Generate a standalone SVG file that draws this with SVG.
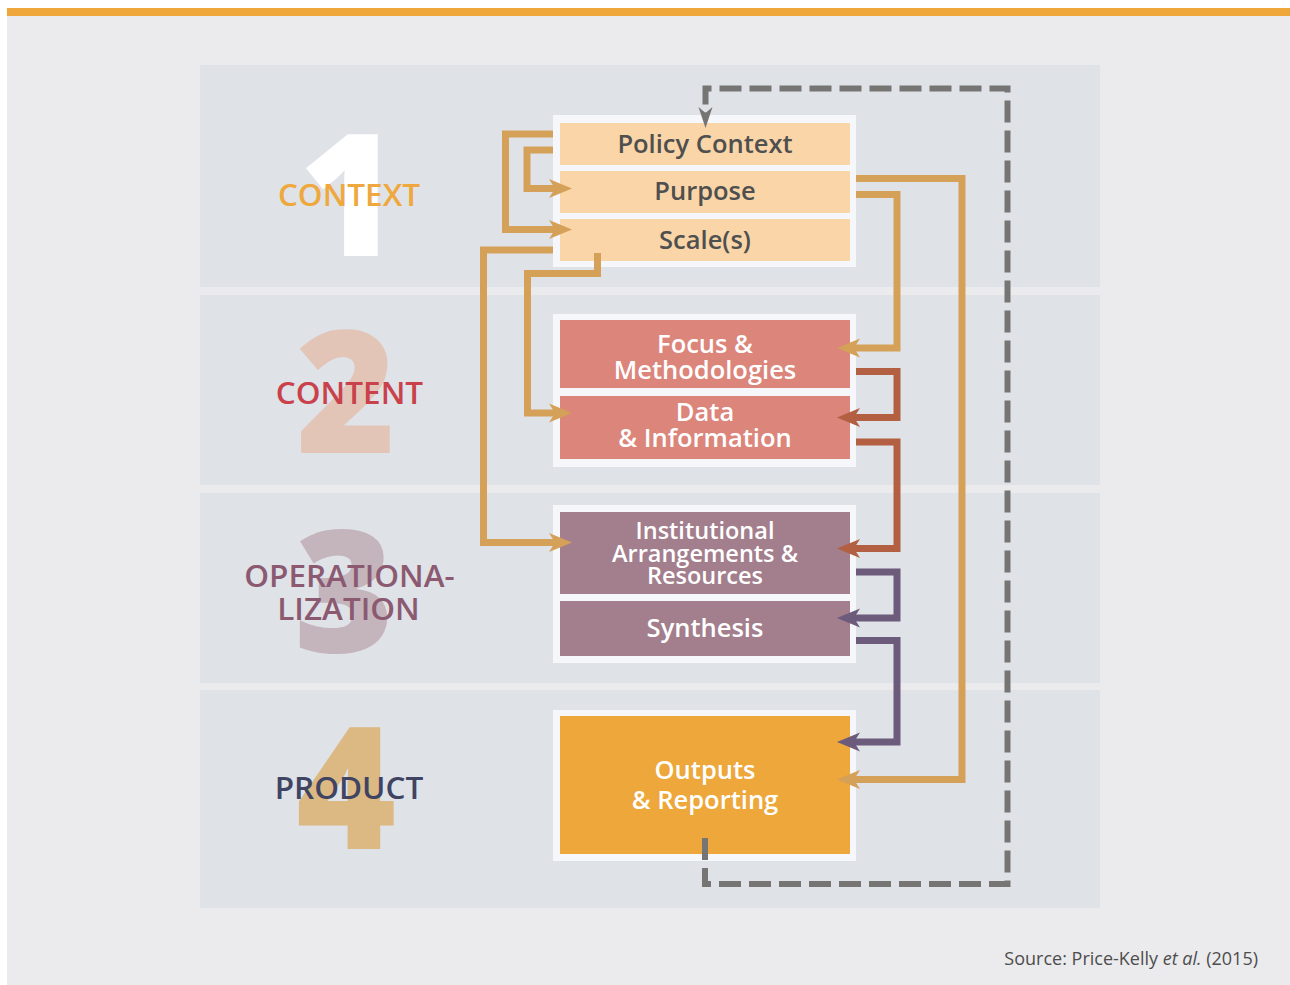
<svg xmlns="http://www.w3.org/2000/svg" width="1290" height="985" viewBox="0 0 1290 985">
<style>
.band{fill:#DFE2E7}
.frame{fill:#F5F7FA}
.nt{font-family:"Open Sans","Noto Sans","DejaVu Sans",sans-serif;font-weight:600;font-size:25.5px;text-anchor:middle}
.dk{fill:#4F4F4F}
.wt{fill:#FFFFFF}
.big{font-family:"Open Sans","Noto Sans","DejaVu Sans",sans-serif;font-weight:800;font-size:171px;text-anchor:middle}
.lab{font-family:"Open Sans","Noto Sans","DejaVu Sans",sans-serif;font-weight:600;font-size:31.5px;text-anchor:middle}
.c{fill:none;stroke-width:7;stroke-linejoin:miter;stroke-linecap:butt}
.gold{stroke:#D5A058;marker-end:url(#ag)}
.rust{stroke:#B25F42;marker-end:url(#ar)}
.purp{stroke:#6D5B7C;marker-end:url(#ap)}
.dash{fill:none;stroke:#777474;stroke-width:6;stroke-dasharray:22 8;marker-end:url(#ad)}
.peach{fill:#F9D5A7}
.salmon{fill:#DB857B}
.mauve{fill:#A37E8C}
.orange{fill:#EDA73B}
</style>
<defs>
<marker id="ag" markerUnits="userSpaceOnUse" orient="auto" viewBox="-8 -12 28 24" markerWidth="28" markerHeight="24" refX="0" refY="0"><path d="M17,0 L-6,-9.5 L0,0 L-6,9.5 Z" fill="#D5A058"/></marker>
<marker id="ar" markerUnits="userSpaceOnUse" orient="auto" viewBox="-8 -12 28 24" markerWidth="28" markerHeight="24" refX="0" refY="0"><path d="M17,0 L-6,-9.5 L0,0 L-6,9.5 Z" fill="#B25F42"/></marker>
<marker id="ap" markerUnits="userSpaceOnUse" orient="auto" viewBox="-8 -12 28 24" markerWidth="28" markerHeight="24" refX="0" refY="0"><path d="M17,0 L-6,-9.5 L0,0 L-6,9.5 Z" fill="#6D5B7C"/></marker>
<marker id="ad" markerUnits="userSpaceOnUse" orient="auto" viewBox="-8 -12 28 24" markerWidth="28" markerHeight="24" refX="0" refY="0"><path d="M15,0 L-6,-7 L0,0 L-6,7 Z" fill="#777474"/></marker>
</defs>

<rect x="0" y="0" width="1290" height="985" fill="#FFFFFF"/>
<rect x="7" y="8" width="1283" height="977" fill="#EBEBED"/>
<rect x="7" y="8" width="1283" height="8" fill="#EFA73C"/>

<g id="bands">
<rect class="band" x="200" y="65" width="900" height="222"/>
<rect class="band" x="200" y="295" width="900" height="190"/>
<rect class="band" x="200" y="493" width="900" height="190"/>
<rect class="band" x="200" y="690" width="900" height="218"/>
</g>

<g id="stage-context">
<text class="big" x="349" y="256" fill="#FFFFFF">1</text>
<text class="lab" x="349" y="206" fill="#EFA83D">CONTEXT</text>
</g>
<g id="stage-content">
<text class="big" x="346" y="453" fill="#E2C5B7">2</text>
<text class="lab" x="349.5" y="404" fill="#C8414B">CONTENT</text>
</g>
<g id="stage-operationalization">
<text class="big" x="344" y="652" fill="#C4B5BC">3</text>
<text class="lab" x="349.5" y="587" fill="#8B5A71">OPERATIONA-</text>
<text class="lab" x="348.5" y="620" fill="#8B5A71">LIZATION</text>
</g>
<g id="stage-product">
<text class="big" x="346" y="849" fill="#DCB882">4</text>
<text class="lab" x="349" y="799" fill="#3E4461">PRODUCT</text>
</g>

<g id="frame-context"><rect class="frame" x="553" y="115" width="303" height="152"/></g>
<g id="frame-content"><rect class="frame" x="553" y="314" width="303" height="153"/></g>
<g id="frame-operationalization"><rect class="frame" x="553" y="505" width="303" height="158"/></g>
<g id="frame-product"><rect class="frame" x="553" y="710" width="303" height="151"/></g>

<g id="node-policy-context">
<rect class="peach" x="560" y="123" width="290" height="42"/>
<text class="nt dk" x="705" y="153">Policy Context</text>
</g>
<g id="node-purpose">
<rect class="peach" x="560" y="171" width="290" height="42"/>
<text class="nt dk" x="705" y="200">Purpose</text>
</g>
<g id="node-scales">
<rect class="peach" x="560" y="219" width="290" height="42"/>
<text class="nt dk" x="705" y="249">Scale(s)</text>
</g>
<g id="node-focus">
<rect class="salmon" x="560" y="320" width="290" height="68"/>
<text class="nt wt" x="705" y="353">Focus &amp;</text>
<text class="nt wt" x="705" y="379">Methodologies</text>
</g>
<g id="node-data">
<rect class="salmon" x="560" y="396" width="290" height="63"/>
<text class="nt wt" x="705" y="421">Data</text>
<text class="nt wt" x="705" y="447">&amp; Information</text>
</g>
<g id="node-institutional">
<rect class="mauve" x="560" y="512" width="290" height="82"/>
<text class="nt wt" x="705" y="539" style="font-size:23.5px">Institutional</text>
<text class="nt wt" x="705" y="562" style="font-size:23.5px">Arrangements &amp;</text>
<text class="nt wt" x="705" y="584" style="font-size:23.5px">Resources</text>
</g>
<g id="node-synthesis">
<rect class="mauve" x="560" y="601" width="290" height="55"/>
<text class="nt wt" x="705" y="637">Synthesis</text>
</g>
<g id="node-outputs">
<rect class="orange" x="560" y="716" width="290" height="138"/>
<text class="nt wt" x="705" y="779">Outputs</text>
<text class="nt wt" x="705" y="809">&amp; Reporting</text>
</g>

<g id="connectors">
<path class="c gold" d="M553,134 H505.5 V229.5 H555"/>
<path class="c gold" d="M553,150 H527 V188.5 H555"/>
<path class="c gold" d="M553,250 H483.5 V542.5 H555"/>
<path class="c gold" d="M597.5,253 V273.5 H527.5 V413 H555"/>
<path class="c gold" d="M856,178.5 H962 V779.5 H854"/>
<path class="c gold" d="M856,194.5 H897 V348 H854"/>
<path class="c rust" d="M856,371.5 H897 V417.5 H854"/>
<path class="c rust" d="M856,442 H897 V548.5 H854"/>
<path class="c purp" d="M856,572 H897 V618 H854"/>
<path class="c purp" d="M856,640.5 H897 V742 H854"/>
<path class="dash" d="M705,838 V884 H1007.5 V88.5 H705.5 V113"/>
</g>

<text x="1258" y="965" text-anchor="end" style="font-family:'Open Sans','Noto Sans','DejaVu Sans',sans-serif;font-size:18px" fill="#4D4D4D">Source: Price-Kelly <tspan font-style="italic">et al.</tspan> (2015)</text>
</svg>
